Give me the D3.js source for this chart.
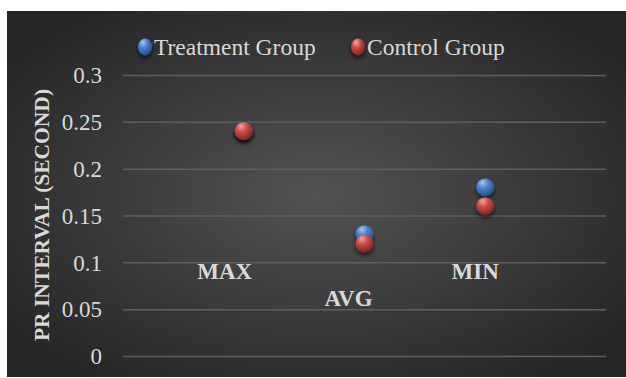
<!DOCTYPE html>
<html>
<head>
<meta charset="utf-8">
<script src="https://cdn.jsdelivr.net/npm/d3@7"></script>
<style>
  html, body { margin: 0; padding: 0; background: #ffffff; }
  svg { display: block; }
</style>
</head>
<body>
<div id="chart"></div>
<script>
// data
const categories = ['MAX', 'AVG', 'MIN'];
const xValues = [1, 2, 3];
const treatment = [0.24, 0.13, 0.18];
const control = [0.24, 0.12, 0.16];
const yTicks = [0, 0.05, 0.1, 0.15, 0.2, 0.25, 0.3];

// layout
const W = 626, H = 378;
const bg = { x: 7, y: 11, w: 619, h: 366 };
const plot = { left: 123, right: 606, top: 75, bottom: 356 };
const textColor = '#d9d9d9';
const serif = '"Liberation Serif", "Times New Roman", serif';
// pixel nudges for the category labels (dx, baseline)
const labelPos = [
    { dx: -19, y: 279 },
    { dx: -16, y: 306 },
    { dx: -10, y: 279 }
];

const svg = d3.select('#chart').append('svg')
    .attr('width', W)
    .attr('height', H);

const defs = svg.append('defs');

const bgGrad = defs.append('radialGradient')
    .attr('id', 'bgGrad')
    .attr('cx', '50%').attr('cy', '50%').attr('r', '62%');
bgGrad.append('stop').attr('offset', '0%').attr('stop-color', '#535353');
bgGrad.append('stop').attr('offset', '100%').attr('stop-color', '#262626');

function ballGradient(id, light, mid, dark) {
    const g = defs.append('radialGradient')
        .attr('id', id)
        .attr('cx', '40%').attr('cy', '30%').attr('r', '70%')
        .attr('fx', '35%').attr('fy', '22%');
    g.append('stop').attr('offset', '0%').attr('stop-color', light);
    g.append('stop').attr('offset', '45%').attr('stop-color', mid);
    g.append('stop').attr('offset', '100%').attr('stop-color', dark);
}
ballGradient('blueBall', '#a9c8f0', '#4a80cc', '#234f8f');
ballGradient('redBall', '#f0a3a0', '#cc4a45', '#7f2320');

const shadow = defs.append('filter')
    .attr('id', 'shadow')
    .attr('x', '-50%').attr('y', '-50%').attr('width', '200%').attr('height', '200%');
shadow.append('feDropShadow')
    .attr('dx', 0).attr('dy', 3)
    .attr('stdDeviation', 2)
    .attr('flood-color', '#000')
    .attr('flood-opacity', 0.6);

svg.append('rect')
    .attr('x', bg.x).attr('y', bg.y)
    .attr('width', bg.w).attr('height', bg.h)
    .attr('fill', 'url(#bgGrad)');

const x = d3.scaleLinear().domain([0, 4]).range([plot.left, plot.right]);
const y = d3.scaleLinear().domain([0, 0.3]).range([plot.bottom, plot.top]);

// gridlines + tick labels
const yAxis = svg.append('g')
    .attr('transform', `translate(${plot.left},0)`)
    .call(d3.axisLeft(y)
        .tickValues(yTicks)
        .tickSize(-(plot.right - plot.left))
        .tickPadding(21)
        .tickFormat(d => String(+d.toFixed(2))));
yAxis.select('.domain').remove();
yAxis.selectAll('.tick line')
    .attr('stroke', '#5e5e5e')
    .attr('stroke-width', 1.5);
yAxis.selectAll('.tick text')
    .attr('fill', textColor)
    .attr('font-family', serif)
    .attr('font-size', 23)
    .attr('dy', '0.34em');

// y axis title
svg.append('text')
    .attr('transform', `translate(49,215) rotate(-90)`)
    .attr('text-anchor', 'middle')
    .attr('fill', textColor)
    .attr('font-family', serif)
    .attr('font-weight', 'bold')
    .attr('font-size', 21.5)
    .text('PR INTERVAL (SECOND)');

// category labels
svg.append('g').selectAll('text')
    .data(categories)
    .join('text')
    .attr('x', (d, i) => x(xValues[i]) + labelPos[i].dx)
    .attr('y', (d, i) => labelPos[i].y)
    .attr('text-anchor', 'middle')
    .attr('fill', textColor)
    .attr('font-family', serif)
    .attr('font-weight', 'bold')
    .attr('font-size', 23)
    .text(d => d);

// points
const series = [
    { name: 'Treatment Group', values: treatment, fill: 'url(#blueBall)' },
    { name: 'Control Group', values: control, fill: 'url(#redBall)' }
];

series.forEach(s => {
    svg.append('g').selectAll('circle')
        .data(s.values)
        .join('circle')
        .attr('cx', (d, i) => x(xValues[i]))
        .attr('cy', d => y(d))
        .attr('r', 9)
        .attr('fill', s.fill)
        .attr('filter', 'url(#shadow)');
});

// legend
const legendX = [145, 358];
const legend = svg.append('g').selectAll('g')
    .data(series)
    .join('g')
    .attr('transform', (d, i) => `translate(${legendX[i]},47)`);
legend.append('ellipse')
    .attr('rx', 7).attr('ry', 8.5)
    .attr('fill', d => d.fill)
    .attr('filter', 'url(#shadow)');
legend.append('text')
    .attr('x', 9)
    .attr('dy', '0.34em')
    .attr('fill', textColor)
    .attr('font-family', serif)
    .attr('font-size', 23.5)
    .text(d => d.name);
</script>
</body>
</html>
